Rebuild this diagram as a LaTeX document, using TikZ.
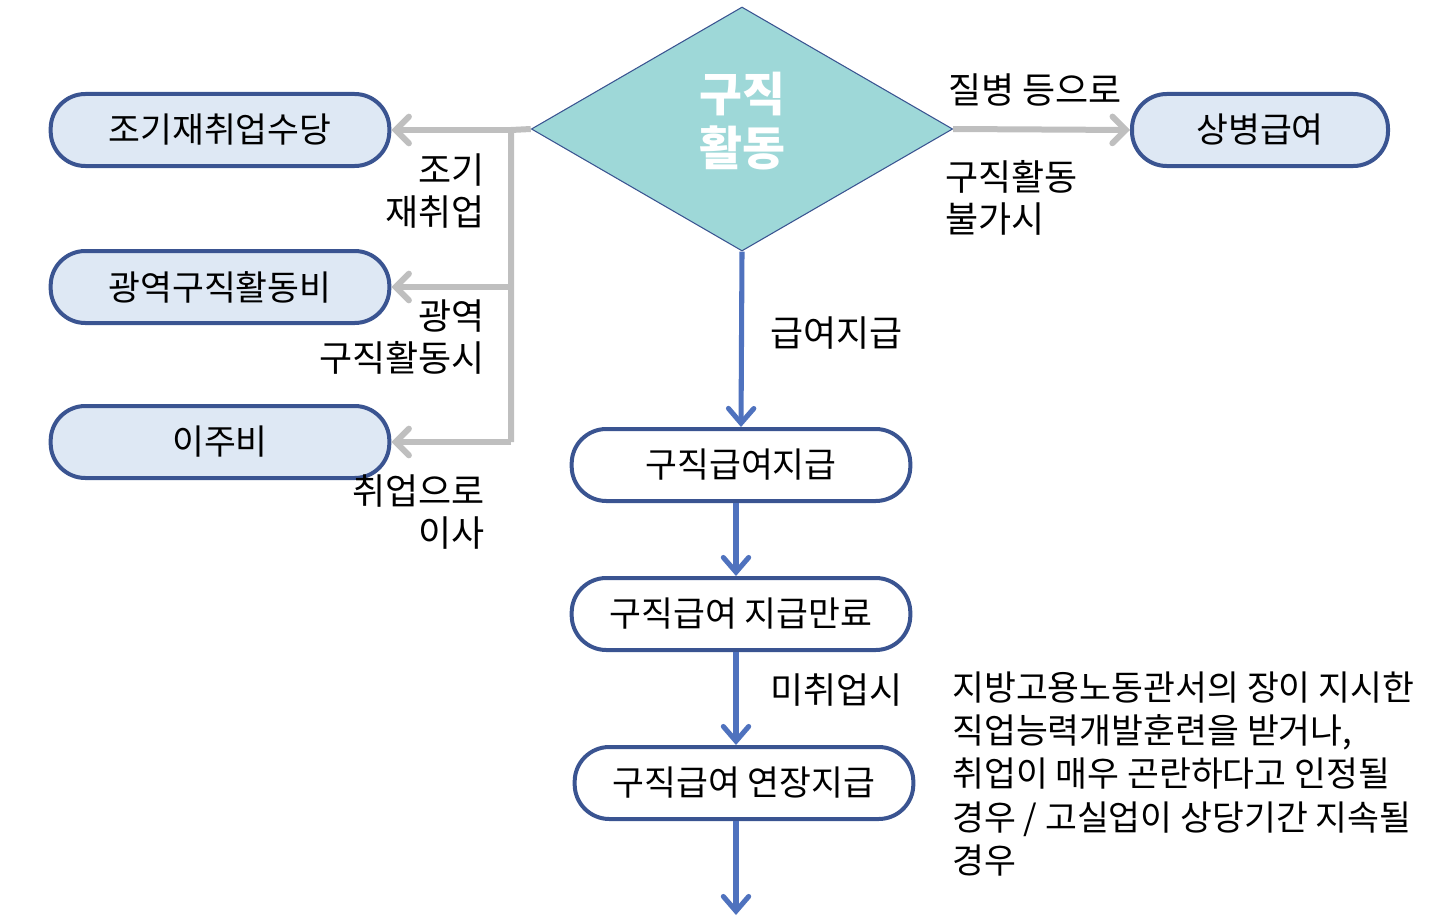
\documentclass[tikz,border=0pt]{standalone}
\usepackage{fontspec}
\setmainfont{Noto Sans CJK KR}
\usetikzlibrary{shapes.geometric,arrows.meta}
\definecolor{diafill}{HTML}{9ED8D8}
\definecolor{boxline}{HTML}{3A5491}
\definecolor{lightfill}{HTML}{DEE8F4}
\definecolor{bluearr}{HTML}{4F72BE}
\definecolor{grayarr}{HTML}{BFBFBF}
\begin{document}
\begin{tikzpicture}[x=0.75pt,y=-0.75pt,
  pill/.style={draw=boxline,line width=3pt,rounded corners=26pt,minimum width=254pt,minimum height=54pt,inner sep=0pt,font=\fontsize{26}{30}\selectfont},
  lpill/.style={pill,fill=lightfill},
  wpill/.style={pill,fill=white},
  dia/.style={diamond,draw=boxline,line width=0.8pt,fill=diafill,minimum width=316pt,minimum height=183pt,inner sep=0pt},
  diatext/.style={inner sep=0pt,text=white,align=center,font=\fontsize{35}{40}\selectfont\bfseries},
  lbl/.style={inner sep=0pt,font=\fontsize{27}{31.5}\selectfont},
  garr/.style={draw=grayarr,line width=4.5pt,-{Straight Barb[length=10pt,width=20pt,line cap=round]}},
  gline/.style={draw=grayarr,line width=4.5pt},
  barr/.style={draw=bluearr,line width=3.8pt,-{Straight Barb[length=11pt,width=19pt,line cap=round]}}
]
\useasboundingbox (0,0) rectangle (1438,917);
\node[dia] (d) at (742,129) {};
\node[diatext] (dt) at (742,121) {구직\\활동};
\node[lpill] (b1) at (220,130) {조기재취업수당};
\node[lpill] (b2) at (220,287) {광역구직활동비};
\node[lpill] (b3) at (220,442) {이주비};
\node[lpill,minimum width=192pt] (b4) at (1260,130) {상병급여};
\node[wpill] (w1) at (741,465) {구직급여지급};
\node[wpill] (w2) at (741,614) {구직급여 지급만료};
\node[wpill] (w3) at (744,783) {구직급여 연장지급};
\coordinate (j1) at (511,130);
\coordinate (j2) at (511,287);
\coordinate (j3) at (511,442);
\coordinate (endp) at (736,915);
% gray connectors
\draw[gline] (d.west) -- (j1) -- (j3);
\draw[garr] (j1) -- (b1.east);
\draw[garr] (j2) -- (b2.east);
\draw[garr] (j3) -- (b3.east);
\draw[garr] (d.east) -- (b4.west);
% blue connectors
\draw[barr] (d.south) -- (w1.north);
\draw[barr] ([xshift=-3.75pt]w1.south) -- ([xshift=-3.75pt]w2.north);
\draw[barr] ([xshift=-3.75pt]w2.south) -- ([xshift=-6pt]w3.north);
\draw[barr] ([xshift=-6pt]w3.south) -- (endp);
% labels
\node[lbl,anchor=east,align=right] (l1) at (485,191) {조기\\재취업};
\node[lbl,anchor=east,align=right] (l2) at (485,337) {광역\\구직활동시};
\node[lbl,anchor=east,align=right] (l3) at (485,512) {취업으로\\이사};
\node[lbl,anchor=west] (l4) at (948,90) {질병 등으로};
\node[lbl,anchor=west,align=left] (l5) at (945,198) {구직활동\\불가시};
\node[lbl,anchor=west] (l6) at (770,333) {급여지급};
\node[lbl,anchor=west] (l7) at (770,690) {미취업시};
\node[lbl,anchor=west,align=left,font=\fontsize{26}{32.3}\selectfont] (l8) at (952,774) {지방고용노동관서의 장이 지시한\\직업능력개발훈련을 받거나,\\취업이 매우 곤란하다고 인정될\\경우 / 고실업이 상당기간 지속될\\경우};
\end{tikzpicture}
\end{document}
